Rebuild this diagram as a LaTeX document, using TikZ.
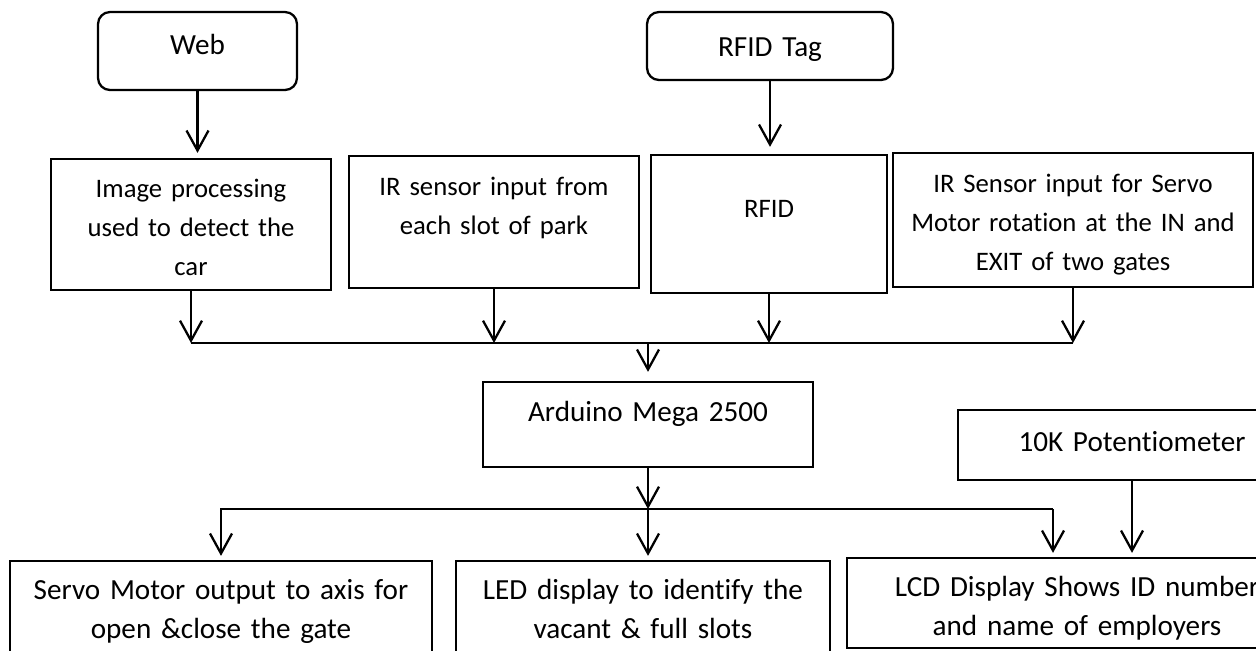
\documentclass[tikz,border=0pt]{standalone}
\usepackage{fontspec}
\setmainfont{Carlito}[Ligatures=NoCommon]
\usetikzlibrary{arrows.meta}

\begin{document}
\begin{tikzpicture}[x=0.02cm,y=-0.02cm,
    box/.style={draw,line width=1.3pt,inner sep=0pt,anchor=base,align=center,
        font=\fontsize{16.6}{22.2}\selectfont},
    inbox/.style={box,font=\fontsize{15.2}{22.2}\selectfont},
    arr/.style={line width=1.3pt,-{Straight Barb[length=0.4cm,width=0.44cm]}}]
% Page frame, the scan is cut at the right and at the bottom
\path[use as bounding box] (0,0) rectangle (1256,650);
\clip (0,0) rectangle (1256,650);

% Sources on top
\node[box,rounded corners=0.24cm,text width=3.98cm,text height=0.84cm,text depth=0.72cm] (web) at (197.5,54) {Web};
\node[box,rounded corners=0.24cm,text width=4.92cm,text height=0.88cm,text depth=0.48cm] (tag) at (770,56) {RFID Tag};

% Input row
\node[inbox,text width=5.6cm,text height=0.76cm,text depth=1.86cm] (img) at (191,197) {Image processing\\used to detect the\\car};
\node[inbox,text width=5.8cm,text height=0.78cm,text depth=1.86cm] (irs) at (494,195) {IR sensor input from\\each slot of park};
\node[inbox,text width=4.72cm,text height=1.24cm,text depth=1.52cm] (rfid) at (769,217) {RFID};
\node[inbox,text width=7.2cm,text height=0.78cm,text depth=1.9cm] (gate) at (1073,192) {IR Sensor input for Servo\\Motor rotation at the IN and\\EXIT of two gates};

% Controller and potentiometer
\node[box,text width=6.6cm,text height=0.78cm,text depth=0.92cm] (ard) at (648,421) {Arduino Mega 2500};
\node[box,text width=6.96cm,text height=0.82cm,text depth=0.58cm] (pot) at (1132,451) {10K Potentiometer};

% Output row
\node[box,text width=8.44cm,text height=0.76cm,text depth=1.22cm] (servo) at (221,599) {Servo Motor output to axis for\\open \&close the gate};
\node[box,text width=7.48cm,text height=0.76cm,text depth=1.22cm] (led) at (643,599) {LED display to identify the\\vacant \& full slots};
\node[box,text width=9.2cm,text height=0.76cm,text depth=1.04cm] (lcd) at (1077,596) {LCD Display Shows ID number\\and name of employers};

% Arrows into the input row
\draw[arr,shorten >=0.1cm] (web.south) -- (web.south |- img.north);
\draw[arr,shorten >=0.14cm] (tag.south) -- (tag.south |- rfid.north);

% Collect the inputs on one line
\coordinate (bus1) at (0,343);
\foreach \n in {img,irs,rfid,gate}
    \draw[arr] (\n.south) -- (\n.south |- bus1);
\draw[line width=1.3pt] (img.south |- bus1) -- (gate.south |- bus1);
\draw[arr,shorten >=0.18cm] (ard.north |- bus1) -- (ard.north);

% Spread the outputs
\coordinate (bus2) at (0,509);
\coordinate (lcdin) at (1053,509);
\draw[arr] (ard.south) -- (ard.south |- bus2);
\draw[arr,shorten >=0.08cm] (lcdin) -- (servo.north |- bus2) -- (servo.north);
\draw[arr,shorten >=0.08cm] (ard.south |- bus2) -- (ard.south |- led.north);
\draw[arr,shorten >=0.08cm] (lcdin) -- (lcdin |- lcd.north);
\draw[arr,shorten >=0.08cm] (pot.south) -- (pot.south |- lcd.north);

\end{tikzpicture}
\end{document}
